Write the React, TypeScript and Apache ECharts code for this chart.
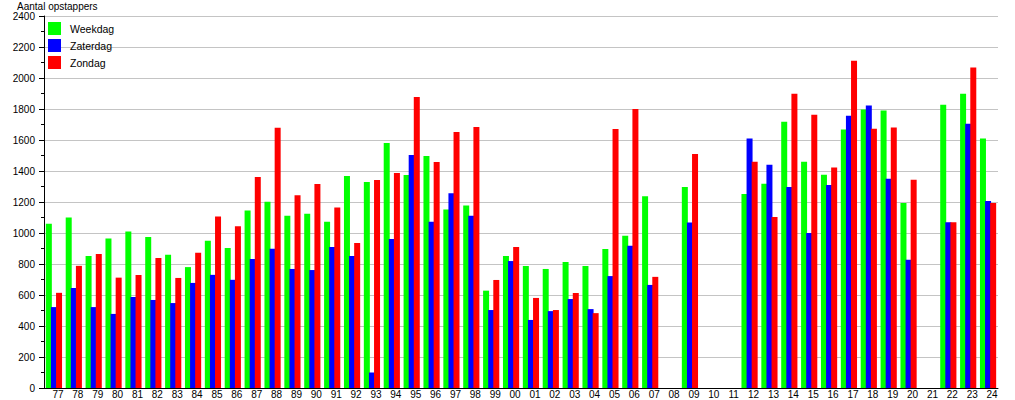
import React, { useEffect, useRef } from "react";
import * as echarts from "echarts";

const years = [
  "77", "78", "79", "80", "81", "82", "83", "84", "85", "86", "87", "88",
  "89", "90", "91", "92", "93", "94", "95", "96", "97", "98", "99", "00",
  "01", "02", "03", "04", "05", "06", "07", "08", "09", "10", "11", "12",
  "13", "14", "15", "16", "17", "18", "19", "20", "21", "22", "23", "24",
];

const weekdag = [
  1060, 1100, 852, 965, 1010, 975, 860, 780, 950, 904, 1145, 1202,
  1112, 1125, 1073, 1368, 1329, 1581, 1374, 1497, 1151, 1178, 628, 852,
  787, 768, 813, 787, 897, 983, 1237, null, 1296, null, null, 1252,
  1317, 1718, 1460, 1376, 1667, 1796, 1790, 1194, null, 1828, 1898, 1609,
];

const zaterdag = [
  522, 645, 522, 478, 587, 568, 548, 678, 730, 698, 832, 898,
  768, 761, 910, 852, 100, 962, 1504, 1073, 1256, 1112, 503, 819,
  439, 496, 574, 509, 722, 917, 665, null, 1067, null, null, 1609,
  1441, 1297, 1000, 1310, 1757, 1822, 1350, 828, null, 1069, 1705, 1206,
];

const zondag = [
  614, 788, 865, 712, 729, 839, 710, 873, 1106, 1043, 1361, 1679,
  1243, 1316, 1165, 936, 1342, 1387, 1878, 1458, 1652, 1684, 697, 910,
  581, 503, 613, 483, 1671, 1800, 717, null, 1510, null, null, 1460,
  1103, 1898, 1763, 1422, 2112, 1673, 1680, 1344, null, 1069, 2067, 1194,
];

const yTicks = { min: 0, max: 2400, interval: 200 };

export default function App() {
  const ref = useRef<HTMLDivElement>(null);
  useEffect(() => {
    if (!ref.current) return;
    const chart = echarts.init(ref.current, undefined, { renderer: "svg" });
    const font = "'Liberation Sans', Arial, sans-serif";
    const barBase = { type: "bar" as const, barWidth: 6, barGap: "-15%" };
    chart.setOption({
      animation: false,
      backgroundColor: "#ffffff",
      textStyle: { fontFamily: font },
      title: {
        text: "Aantal opstappers",
        left: 17,
        top: 1,
        padding: 0,
        textStyle: { fontSize: 10, fontWeight: "normal", color: "#000", fontFamily: font },
      },
      legend: {
        orient: "vertical",
        left: 48,
        top: 22,
        padding: 0,
        itemWidth: 13,
        itemHeight: 13,
        itemGap: 4,
        icon: "rect",
        textStyle: { fontSize: 10.5, color: "#000", fontFamily: font, padding: [0, 0, 0, 4] },
        data: ["Weekdag", "Zaterdag", "Zondag"],
      },
      grid: { left: 44, right: 17, top: 16, bottom: 12, containLabel: false },
      xAxis: {
        type: "category",
        data: years,
        axisLine: { lineStyle: { color: "#000", width: 1 } },
        axisTick: { show: false },
        axisLabel: {
          fontSize: 10,
          color: "#000",
          fontFamily: font,
          margin: 1,
          interval: 0,
          padding: [0, 0, 0, 8],
        },
      },
      yAxis: {
        type: "value",
        min: yTicks.min,
        max: yTicks.max,
        interval: yTicks.interval,
        axisLine: { show: true, lineStyle: { color: "#000", width: 1 } },
        axisTick: { show: true, length: 5, lineStyle: { color: "#000" } },
        minorTick: { show: true, splitNumber: 2, length: 3, lineStyle: { color: "#000" } },
        axisLabel: {
          fontSize: 10,
          color: "#000",
          fontFamily: font,
          margin: 9,
          formatter: (v: number) => String(v),
        },
        splitLine: { show: true, lineStyle: { color: "#c4c4c4", width: 1 } },
      },
      series: [
        { ...barBase, name: "Weekdag", data: weekdag, itemStyle: { color: "#00ff00" } },
        { ...barBase, name: "Zaterdag", data: zaterdag, itemStyle: { color: "#0000ff" } },
        { ...barBase, name: "Zondag", data: zondag, itemStyle: { color: "#ff0000" } },
      ],
    });
    return () => chart.dispose();
  }, []);
  return (
    <div
      ref={ref}
      style={{ position: "fixed", left: 0, top: 0, width: 1015, height: 400 }}
    />
  );
}
